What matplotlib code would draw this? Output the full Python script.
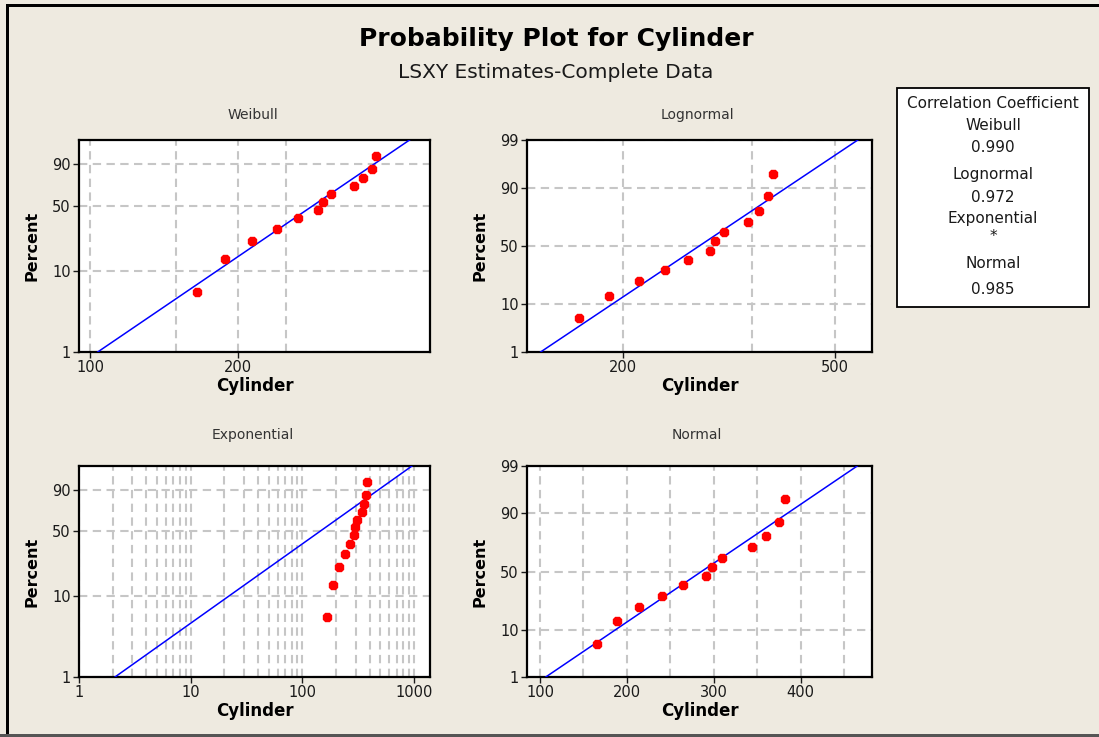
### probability plot (Weibull / Lognormal / Exponential / Normal) for Cylinder
import math
import numpy as np
import matplotlib
matplotlib.use("Agg")
import matplotlib.pyplot as plt
from matplotlib.patches import Rectangle
from matplotlib.ticker import NullFormatter

# data
cylinder = [165, 188, 214, 240, 265, 291, 298, 309, 344, 360, 375, 382]
percent = [5.6, 13.7, 21.8, 29.8, 37.9, 46.0, 54.0, 62.1, 70.2, 78.2, 86.3, 94.4]

# LSXY fitted lines: cylinder value at 1 % and at 99 %
fit_pct = [1, 99]
weibull_fit = [103.7, 447]
lognormal_fit = [140, 552]
exponential_fit = [2.1, 958]
normal_fit = [106.6, 465]

corr_names = ["Weibull", "Lognormal", "Exponential", "Normal"]
corr_values = ["0.990", "0.972", "*", "0.985"]

W, H = 1099, 737
BG = "#eeeae0"
GRID = "#c6c6c6"


## probability paper scales
def weib_fwd(p):
    p = np.clip(np.asarray(p, float), 1e-9, 100 - 1e-9) / 100
    return np.log(-np.log(1 - p))


def weib_inv(y):
    return 100 * (1 - np.exp(-np.exp(np.asarray(y, float))))


_erf = np.vectorize(math.erf)
_z = np.linspace(-7, 7, 4001)
_cdf = 0.5 * (1 + _erf(_z / math.sqrt(2)))


def norm_fwd(p):
    p = np.clip(np.asarray(p, float), 1e-9, 100 - 1e-9) / 100
    return np.interp(p, _cdf, _z)


def norm_inv(z):
    return 100 * 0.5 * (1 + _erf(np.asarray(z, float) / math.sqrt(2)))


fig = plt.figure(figsize=(W / 100, H / 100), dpi=100, facecolor=BG)


def px_axes(l, t, r, b):
    return fig.add_axes([l / W, 1 - b / H, (r - l) / W, (b - t) / H])


def style(ax, title, tx, ty, yticks, scale):
    ax.set_facecolor("white")
    ax.set_yscale("function", functions=scale)
    ax.set_ylim(1, 99)
    ax.set_yticks(yticks, [str(v) for v in yticks])
    ax.set_yticks([], minor=True)
    for s in ax.spines.values():
        s.set_linewidth(1.6)
        s.set_color("black")
    ax.set_axisbelow(True)
    ax.grid(True, which="both", color=GRID, lw=1.5, ls=(0, (4, 2.6)))
    ax.tick_params(which="major", direction="out", length=4, width=1, labelsize=10.5,
                   pad=2, colors="#1a1a1a")
    ax.tick_params(which="minor", length=0)
    ax.set_xlabel("Cylinder", fontsize=12, fontweight="bold", labelpad=1)
    ax.set_ylabel("Percent", fontsize=11.5, fontweight="bold", labelpad=9)
    fig.text(tx / W, 1 - ty / H, title, ha="center", va="center", fontsize=10, color="#333333")


def draw(ax, fit):
    ax.xaxis.set_minor_formatter(NullFormatter())
    ax.plot(fit, fit_pct, color="#0000ff", lw=1.1, zorder=3)
    ax.plot(cylinder, percent, ls="none", marker="8", ms=6.5, color="#ff0000", mec="#ff0000", zorder=4)


# Weibull
ax = px_axes(79, 140, 430, 352)
ax.set_xscale("log")
style(ax, "Weibull", 253, 115, [1, 10, 50, 90], (weib_fwd, weib_inv))
ax.set_xticks([100, 200], ["100", "200"])
ax.set_xticks([150, 250], minor=True)
ax.set_xlim(95, 492)
draw(ax, weibull_fit)

# Lognormal
ax = px_axes(527, 140, 872, 352)
ax.set_xscale("log")
style(ax, "Lognormal", 697, 115, [1, 10, 50, 90, 99], (norm_fwd, norm_inv))
ax.set_xticks([200, 500], ["200", "500"])
ax.set_xticks([350], minor=True)
ax.set_xlim(132, 587)
draw(ax, lognormal_fit)

# Exponential
ax = px_axes(79, 466, 430, 677)
ax.set_xscale("log")
style(ax, "Exponential", 253, 435, [1, 10, 50, 90], (weib_fwd, weib_inv))
ax.set_xticks([1, 10, 100, 1000], ["1", "10", "100", "1000"])
ax.set_xticks([k * 10 ** d for d in range(3) for k in range(2, 10)], minor=True)
ax.set_xlim(1, 1390)
draw(ax, exponential_fit)

# Normal
ax = px_axes(527, 466, 872, 677)
style(ax, "Normal", 697, 435, [1, 10, 50, 90, 99], (norm_fwd, norm_inv))
ax.set_xticks([100, 200, 300, 400], ["100", "200", "300", "400"])
ax.set_xticks([150, 250, 350, 450], minor=True)
ax.set_xlim(85, 482)
draw(ax, normal_fit)

# titles
fig.text(556 / W, 1 - 39 / H, "Probability Plot for Cylinder", ha="center", va="center",
         fontsize=18, fontweight="bold", color="black")
fig.text(556 / W, 1 - 72 / H, "LSXY Estimates-Complete Data", ha="center", va="center",
         fontsize=14.5, color="#1a1a1a")

# correlation box
fig.add_artist(Rectangle((897 / W, 1 - 307 / H), (1089 - 897) / W, (307 - 88) / H,
                         transform=fig.transFigure, fc="white", ec="black", lw=1.3))
rows = [("Correlation Coefficient", 104)]
ys = [(126, 148), (174, 197), (218, 237), (264, 290)]
for name, val, (y1, y2) in zip(corr_names, corr_values, ys):
    rows.append((name, y1))
    rows.append((val, y2))
for txt, y in rows:
    fig.text(993 / W, 1 - y / H, txt, ha="center", va="center", fontsize=11, color="#1a1a1a")

# window frame lines
fig.add_artist(Rectangle((6 / W, 1 - 7 / H), 1, 3 / H, transform=fig.transFigure, fc="black", ec="none"))
fig.add_artist(Rectangle((6 / W, 0), 3 / W, 1 - 4 / H, transform=fig.transFigure, fc="black", ec="none"))
fig.add_artist(Rectangle((0, 0), 1, 3 / H, transform=fig.transFigure, fc="#555555", ec="none"))

fig.savefig("out.png", dpi=100, facecolor=BG)
